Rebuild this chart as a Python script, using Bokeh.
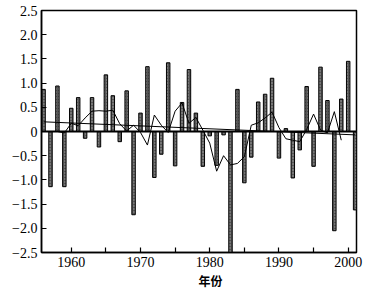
from bokeh.plotting import figure
from bokeh.models import ColumnDataSource, FixedTicker, Span, Title
from bokeh.embed import file_html
from bokeh.resources import INLINE

years = list(range(1956, 2002))
anomaly = [0.87, -1.14, 0.94, -1.14, 0.48, 0.70, -0.14, 0.70, -0.32, 1.17,
           0.74, -0.21, 0.84, -1.72, 0.38, 1.34, -0.95, -0.47, 1.42, -0.71,
           0.60, 1.28, 0.38, -0.72, -0.09, -0.70, -0.07, -2.50, 0.87, -1.06,
           -0.53, 0.61, 0.77, 1.10, -0.55, 0.06, -0.96, -0.38, 0.93, -0.72,
           1.33, 0.64, -2.05, 0.67, 1.45, -1.62]

smooth_years = list(range(1958, 2000))
smooth_vals = [0.00, -0.03, 0.17, 0.12, 0.28, 0.42, 0.43, 0.42, 0.44, 0.16,
               0.01, 0.13, -0.02, -0.28, 0.34, 0.13, -0.02, 0.42, 0.59, 0.17,
               0.29, 0.03, -0.24, -0.82, -0.50, -0.69, -0.66, -0.52, 0.13, 0.18,
               0.28, 0.40, 0.08, -0.15, -0.18, -0.21, 0.04, 0.36, 0.03, -0.03,
               0.41, -0.18]

trend_years = [1956, 2001]
trend_vals = [0.20, -0.07]

x_ticks = [1960, 1965, 1970, 1975, 1980, 1985, 1990, 1995, 2000]
x_labels = {1960: "1960", 1965: "", 1970: "1970", 1975: "", 1980: "1980",
            1985: "", 1990: "1990", 1995: "", 2000: "2000"}
y_ticks = [-2.5, -2.0, -1.5, -1.0, -0.5, 0.0, 0.5, 1.0, 1.5, 2.0, 2.5]
y_labels = ["−2.5", "−2.0", "−1.5", "−1.0", "−0.5", "0", "0.5", "1.0", "1.5", "2.0", "2.5"]
x_title = "年份"

p = figure(width=375, height=298, output_backend="svg", toolbar_location=None,
           x_range=(1955.7, 2001.2), y_range=(-2.5, 2.5),
           min_border_left=41, min_border_right=19, min_border_top=10, min_border_bottom=46)
p.background_fill_color = "white"
p.border_fill_color = "white"
p.outline_line_color = "black"
p.outline_line_width = 1.5
p.grid.visible = False

src = ColumnDataSource(dict(x=years, top=anomaly))
p.vbar(x="x", top="top", bottom=0, width=0.5, source=src,
       fill_color="#555555", line_color="black", line_width=1,
       hatch_pattern=".", hatch_color="white", hatch_scale=3, hatch_alpha=0.5)

p.add_layout(Span(location=0, dimension="width", line_color="black", line_width=2))

p.line(trend_years, trend_vals, line_color="black", line_width=1)
p.line(smooth_years, smooth_vals, line_color="black", line_width=1)

font = "'Liberation Serif', serif"
for ax in (p.xaxis[0], p.yaxis[0]):
    ax.axis_line_width = 1.5
    ax.axis_line_color = "black"
    ax.major_tick_in = 5
    ax.major_tick_out = 0
    ax.minor_tick_in = 0
    ax.minor_tick_out = 0
    ax.major_tick_line_width = 1.2
    ax.major_label_text_font = font
    ax.major_label_text_font_size = "14px"
    ax.major_label_text_color = "black"

p.xaxis.ticker = FixedTicker(ticks=x_ticks)
p.xaxis.major_label_overrides = x_labels
p.xaxis.major_label_standoff = 4
p.yaxis.ticker = FixedTicker(ticks=y_ticks)
p.yaxis.major_label_overrides = {t: l for t, l in zip(y_ticks, y_labels)}
p.yaxis.major_label_standoff = 4

p.add_layout(Title(text=x_title, align="left", offset=157, standoff=0,
                   text_font="Noto Sans CJK SC", text_font_style="bold",
                   text_font_size="12px", text_color="black"), "below")

open("out.html", "w").write(file_html(p, INLINE))
